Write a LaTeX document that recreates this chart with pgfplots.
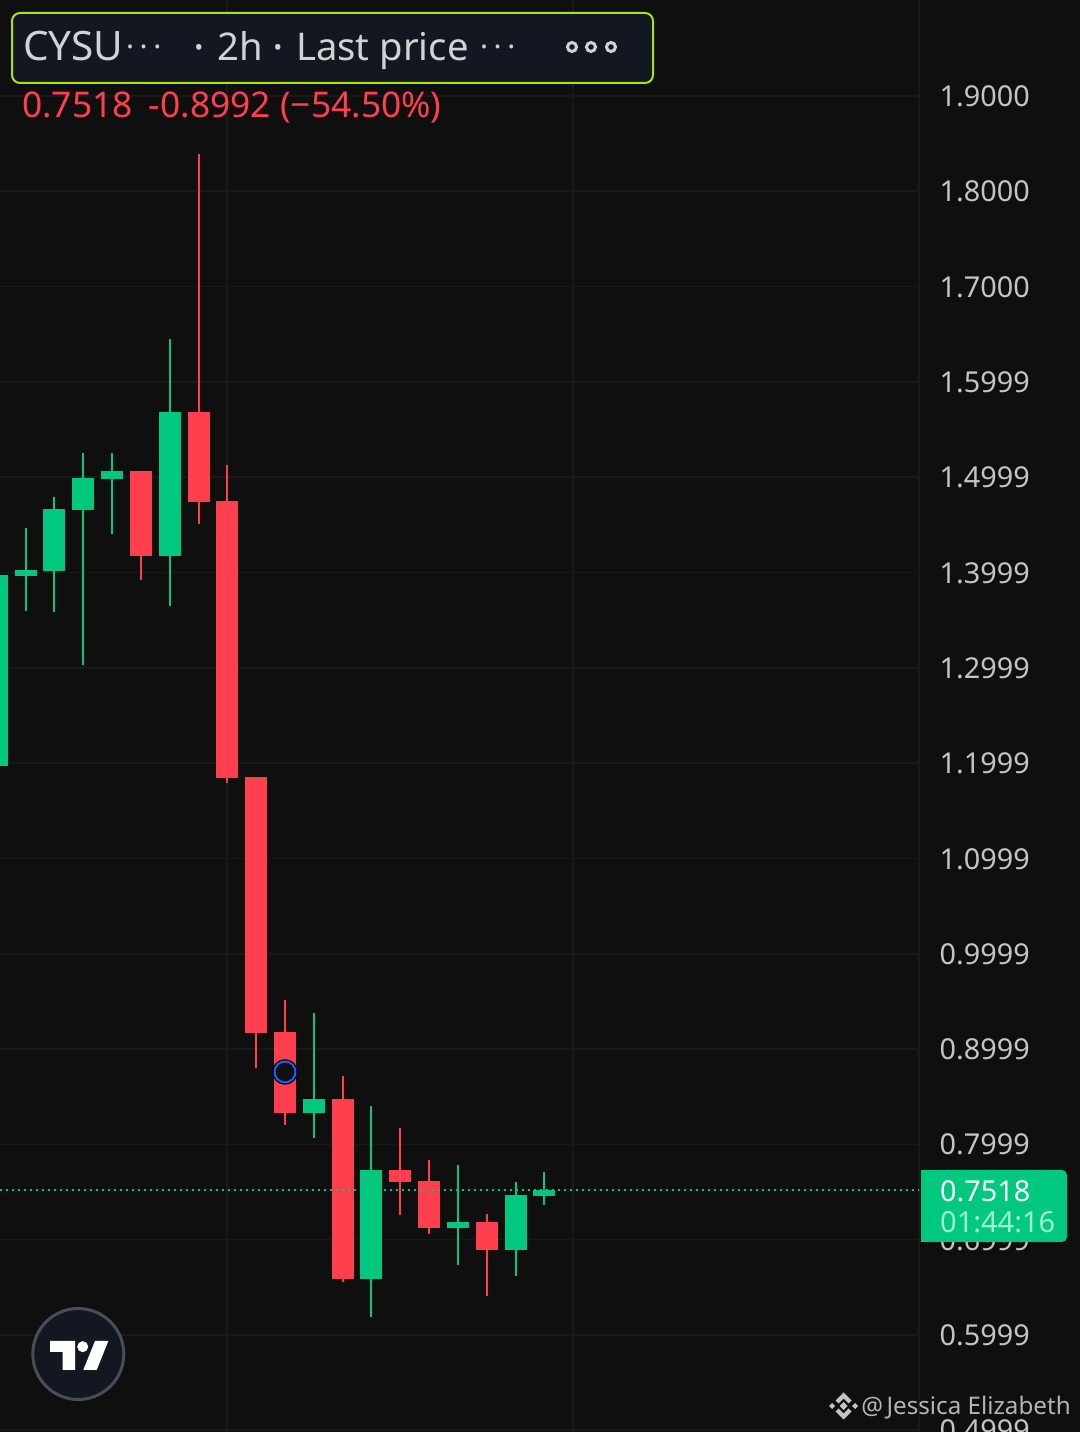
\documentclass[border=0pt]{standalone}
\usepackage{fontspec}
\setmainfont{Noto Sans}
\usepackage{pgfplots}
\usepackage{pgfplotstable}
\pgfplotsset{compat=1.18}
\definecolor{bg}{HTML}{0F0F0F}
\definecolor{gridc}{HTML}{191919}
\definecolor{up}{HTML}{00C87E}
\definecolor{down}{HTML}{FF3F4D}
\definecolor{lab}{HTML}{C4C4C4}
\definecolor{hdr}{HTML}{131722}
\definecolor{lime}{HTML}{A8E60A}
\definecolor{htxt}{HTML}{D2D2D2}
\pgfplotstableread{
i wl bl bh wh
-3 1.1970 1.1970 1.3974 1.3974
26 1.3596 1.3963 1.4026 1.4467
54 1.3586 1.4016 1.4666 1.4792
83 1.3029 1.4656 1.4992 1.5254
112 1.4404 1.4981 1.5065 1.5254
170 1.3648 1.4173 1.5684 1.6450
314 0.8066 0.8328 0.8475 0.9378
371 0.6188 0.6587 0.7730 0.8402
458 0.6733 0.7122 0.7185 0.7783
516 0.6618 0.6891 0.7468 0.7604
544 0.7363 0.7457 0.7520 0.7709
}\upcandles
\pgfplotstableread{
i wl bl bh wh
141 1.3921 1.4173 1.5065 1.5065
199 1.4509 1.4740 1.5684 1.8391
227 1.1791 1.1844 1.4750 1.5128
256 0.8801 0.9168 1.1854 1.1854
285 0.8203 0.8328 0.9178 0.9514
343 0.6555 0.6587 0.8475 0.8717
400 0.7258 0.7604 0.7730 0.8171
429 0.7059 0.7122 0.7615 0.7835
487 0.6408 0.6891 0.7185 0.7269
}\downcandles
\newcommand{\candles}[2]{%
  \addplot[draw=none,mark=none,forget plot,error bars/.cd,y dir=plus,y explicit,error mark=none,
    error bar style={line width=2pt,draw=#2}]
    table[x=i,y=wl,y error plus expr=\thisrow{wh}-\thisrow{wl}]{#1};
  \addplot[draw=none,mark=none,forget plot,error bars/.cd,y dir=plus,y explicit,error mark=none,
    error bar style={line width=22pt,draw=#2}]
    table[x=i,y=bl,y error plus expr=\thisrow{bh}-\thisrow{bl}]{#1};
}
\newcommand{\tridot}{\textperiodcentered\hspace{5.5pt}\textperiodcentered\hspace{5.5pt}\textperiodcentered}
\begin{document}
\begin{tikzpicture}
\fill[bg] (0,0) rectangle (1080pt,1432pt);
\begin{axis}[
  at={(0pt,0pt)},anchor=south west,scale only axis,
  width=919pt,height=1432pt,
  xmin=0,xmax=919,ymin=0.4981,ymax=2.0007,
  axis line style={draw=none},
  xtick={227,573,919},xticklabels={},
  ytick={1.9,1.8,1.7,1.5999,1.4999,1.3999,1.2999,1.1999,1.0999,0.9999,0.8999,0.7999,0.6999,0.5999,0.4999},
  yticklabel pos=right,
  /pgf/number format/assume math mode=true,
  /pgf/number format/fixed,/pgf/number format/zerofill,/pgf/number format/precision=4,
  yticklabel style={anchor=west,inner sep=0pt,xshift=20.5pt,yshift=-0.3pt,text=lab,font=\fontsize{28.8}{34}\selectfont},
  major tick length=0pt,tick style={draw=none},
  grid=major,grid style={draw=gridc,line width=1.6pt},
]
\candles{\downcandles}{down}
\candles{\upcandles}{up}
\addplot[forget plot,up,line width=2pt,dash pattern=on 2pt off 4pt] coordinates {(0,0.7518)(919,0.7518)};
\addplot[forget plot,only marks,mark=*,mark size=12pt,mark options={fill=bg,draw=black,line width=1.6pt}] coordinates {(285,0.8759)};
\addplot[forget plot,only marks,mark=*,mark size=10.5pt,mark options={fill=bg,draw=blue!70!cyan!90!white,line width=2pt}] coordinates {(285,0.8759)};
\end{axis}
\begin{scope}[x=1pt,y=-1pt,yshift=1432pt]
% header
\draw[lime,line width=2pt,fill=hdr,rounded corners=8pt] (12,13) rectangle (653,83);
\begin{scope}[every node/.style={inner sep=0pt,anchor=base west,text=htxt,font=\fontsize{38.2}{46}\selectfont}]
\node[font=\fontsize{40.5}{46}\selectfont] at (23,61) {CYSU};
\node[font=\fontsize{30}{34}\selectfont] at (126,58) {\tridot};
\node[font=\fontsize{43}{46}\selectfont] at (193.5,62.5) {\textperiodcentered};
\node at (217,61) {2h};
\node[font=\fontsize{43}{46}\selectfont] at (272.5,62.5) {\textperiodcentered};
\node at (296,61) {Last price};
\node[font=\fontsize{30}{34}\selectfont] at (480,58) {\tridot};
\end{scope}
\foreach \cx in {572,591,611} \draw[htxt,line width=3pt] (\cx,47) circle (4.5);
\node[inner sep=0pt,anchor=base west,text=down,font=\fontsize{35.4}{40}\selectfont] at (22,118) {0.7518\hspace{16pt}-0.8992 (−54.50\%)};
% last price badge
\fill[up,rounded corners=5pt] (940,1170) -- (1067,1170) -- (1067,1242) -- (940,1242) -- cycle;
\fill[up] (921,1170) rectangle (960,1242);
\node[inner sep=0pt,anchor=base west,text=white,font=\fontsize{28.8}{34}\selectfont] at (940,1202) {0.7518};
\node[inner sep=0pt,anchor=base west,text=white!65!up,font=\fontsize{29}{34}\selectfont] at (940,1233) {01:44:16};
% watermark
\node[inner sep=0pt,anchor=base east,text=lab!92!black,font=\fontsize{24.2}{30}\selectfont] at (1071,1415) {@\hspace{3.5pt}Jessica Elizabeth};
\begin{scope}[shift={(843.5,1406)}]
\fill[lab] (0,-4)--(4,0)--(0,4)--(-4,0)--cycle;
\fill[lab] (-11.5,-3)--(-8.5,0)--(-11.5,3)--(-14.5,0)--cycle;
\fill[lab] (11.5,-3)--(14.5,0)--(11.5,3)--(8.5,0)--cycle;
\fill[lab] (0,-13.5)--(8,-5.5)--(5,-2.5)--(0,-7.5)--(-5,-2.5)--(-8,-5.5)--cycle;
\fill[lab] (0,13.5)--(8,5.5)--(5,2.5)--(0,7.5)--(-5,2.5)--(-8,5.5)--cycle;
\end{scope}
% tradingview badge
\draw[line width=3pt,draw={rgb,255:red,74;green,77;blue,85},fill=hdr] (78.3,1354) circle (45.5);
\fill[white] (50,1341)--(75,1341)--(75,1370)--(62.7,1370)--(62.7,1352)--(50,1352)--cycle;
\fill[white] (82.7,1346.7) circle (5.5);
\fill[white] (95,1341)--(108.3,1341)--(96.7,1370)--(83.3,1370)--cycle;
\end{scope}
\pgfresetboundingbox
\path[use as bounding box] (0,0) rectangle (1080pt,1432pt);
\end{tikzpicture}
\end{document}
